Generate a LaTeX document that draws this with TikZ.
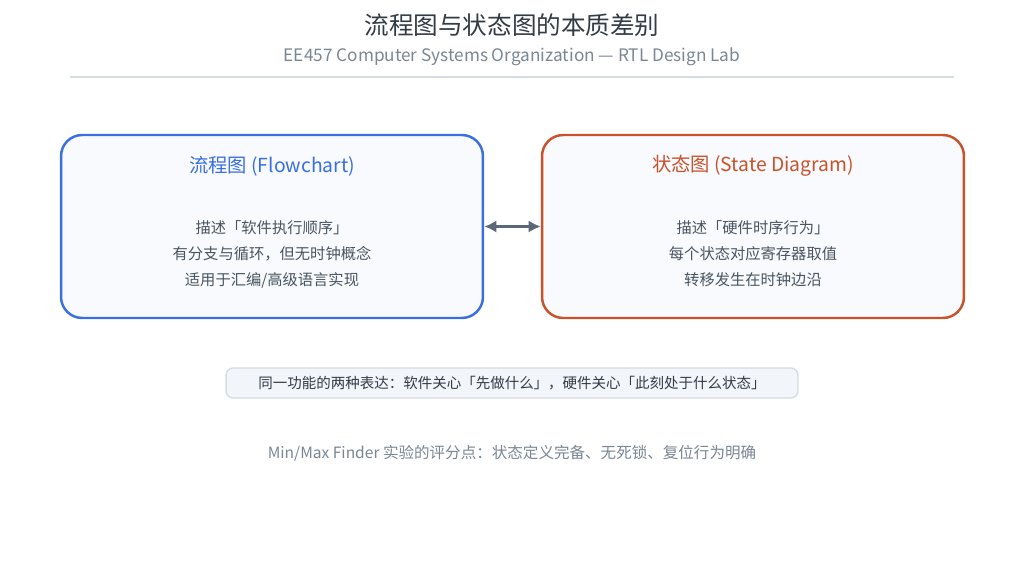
\documentclass[tikz,border=0pt]{standalone}
\usepackage{fontspec}
\setmainfont{Noto Sans CJK SC}
\usetikzlibrary{positioning, arrows.meta, calc}
\definecolor{titlegray}{HTML}{333B45}
\definecolor{subgray}{HTML}{7A8694}
\definecolor{flowblue}{HTML}{3A6FE3}
\definecolor{stateorange}{HTML}{C9522B}
\definecolor{bodygray}{HTML}{4A5562}
\definecolor{arrowslate}{HTML}{5A6878}
\definecolor{boxfill}{HTML}{F8FAFD}
\definecolor{notefill}{HTML}{F2F5F9}
\definecolor{noteline}{HTML}{D5DCE4}
\begin{document}
\begin{tikzpicture}[x=0.02cm, y=-0.02cm,
  panel/.style={draw, line width=1.4pt, rounded corners=12pt, fill=boxfill, minimum width=8.44cm, minimum height=3.66cm},
  head/.style={font=\fontsize{11}{13}\selectfont},
  body/.style={font=\fontsize{8.7}{14.8}\selectfont, text=bodygray, align=center},
  arrow/.style={{Latex[length=7pt,width=7pt]}-{Latex[length=7pt,width=7pt]}, line width=2pt, arrowslate}
]
\useasboundingbox (0,0) rectangle (1024,561);

% ===== Header =====
\node[text=titlegray, font=\fontsize{14}{16}\selectfont] (title) at (512,25) {流程图与状态图的本质差别};
\node[text=subgray, font=\fontsize{9.8}{11}\selectfont] (subtitle) at (512,57) {EE457 Computer Systems Organization — RTL Design Lab};
\coordinate (ruleL) at (70,77);
\coordinate (ruleR) at (954,77);
\draw[noteline, line width=0.8pt] (ruleL) -- (ruleR);

% ===== Panels =====
\node[panel, draw=flowblue] (flow) at (272,226.5) {};
\node[head, text=flowblue] at (272,166) {流程图 (Flowchart)};
\node[body] at (272,254) {描述「软件执行顺序」\\有分支与循环，但无时钟概念\\适用于汇编/高级语言实现};

\node[panel, draw=stateorange] (state) at (753,226.5) {};
\node[head, text=stateorange] at (753,166) {状态图 (State Diagram)};
\node[body] at (753,254) {描述「硬件时序行为」\\每个状态对应寄存器取值\\转移发生在时钟边沿};

\draw[arrow] (flow.east) -- (state.west);

% ===== Notes =====
\node[draw=noteline, fill=notefill, rounded corners=4pt, line width=0.8pt, minimum width=11.44cm, minimum height=0.6cm,
  text=titlegray, font=\fontsize{8.25}{10}\selectfont] (note) at (512,383)
  {同一功能的两种表达：软件关心「先做什么」，硬件关心「此刻处于什么状态」};

\node[text=subgray, font=\fontsize{8.85}{10}\selectfont] (footer) at (512,453)
  {Min/Max Finder 实验的评分点：状态定义完备、无死锁、复位行为明确};
\end{tikzpicture}
\end{document}
